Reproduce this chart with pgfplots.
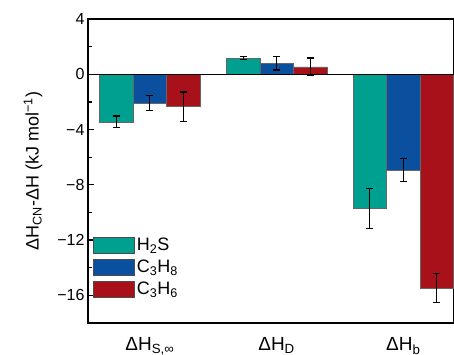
\documentclass[border=0pt]{standalone}
\usepackage{fontspec}
\setmainfont{Liberation Sans}
\usepackage{pgfplots}
\pgfplotsset{compat=1.18}
\definecolor{cTeal}{RGB}{0,160,145}
\definecolor{cBlue}{RGB}{10,80,158}
\definecolor{cRed}{RGB}{168,16,26}
\begin{document}
\begin{tikzpicture}
\begin{axis}[
  scale only axis,
  width=366pt, height=304pt,
  xmin=-0.488, xmax=2.4,
  ymin=-18, ymax=4,
  ybar=0pt, bar width=33.5pt,
  axis line style={line width=1.4pt},
  hide obscured x ticks=false,
  xtick={0,1,2},
  xticklabels={ΔH\textsubscript{S,∞}, ΔH\textsubscript{D}, ΔH\textsubscript{b}},
  x tick style={draw=none},
  xticklabel style={font=\fontsize{19}{21}\selectfont, yshift=-11pt},
  ytick={-16,-12,-8,-4,0,4},
  yticklabels={−16,−12,−8,−4,0,4},
  minor ytick={-18,-14,-10,-6,-2,2},
  tick align=inside,
  ytick pos=left,
  major tick length=6pt, minor tick length=3.5pt,
  y tick style={line width=1.2pt, black},
  yticklabel style={font=\fontsize{16}{18}\selectfont},
  ylabel={ΔH\textsubscript{CN}-ΔH (kJ mol\textsuperscript{−1})},
  ylabel style={font=\fontsize{18}{20}\selectfont, yshift=8pt},
  legend style={draw=none, fill=none, at={(0.014,0.286)}, anchor=north west,
    font=\fontsize{18}{20}\selectfont, row sep=4pt, inner sep=0pt},
  legend cell align=left,
  legend image code/.code={\draw[#1, draw=black!70, line width=0.6pt] (0pt,-8pt) rectangle (41pt,8pt);},
  error bars/y dir=both, error bars/y explicit,
  error bars/error bar style={line width=1.1pt, black},
  error bars/error mark options={rotate=90, mark size=3.5pt, line width=1.1pt, black},
  clip=false,
]
\addplot[fill=cTeal, draw=black!60, line width=0.5pt] coordinates {
  (0,-3.45) +- (0,0.43)
  (1,1.17) +- (0,0.13)
  (2,-9.73) +- (0,1.44)
};
\addplot[fill=cBlue, draw=black!60, line width=0.5pt] coordinates {
  (0,-2.08) +- (0,0.55)
  (1,0.81) +- (0,0.50)
  (2,-6.92) +- (0,0.84)
};
\addplot[fill=cRed, draw=black!60, line width=0.5pt] coordinates {
  (0,-2.35) +- (0,1.07)
  (1,0.54) +- (0,0.64)
  (2,-15.47) +- (0,1.02)
};
\legend{H\textsubscript{2}S, C\textsubscript{3}H\textsubscript{8}, C\textsubscript{3}H\textsubscript{6}}
\draw[line width=1.4pt] (axis cs:-0.488,0) -- (axis cs:2.4,0);
\end{axis}
\pgfresetboundingbox
\path[use as bounding box] ([xshift=-88pt,yshift=-32pt]current axis.south west) rectangle ([yshift=19pt]current axis.north east);
\end{tikzpicture}
\end{document}
